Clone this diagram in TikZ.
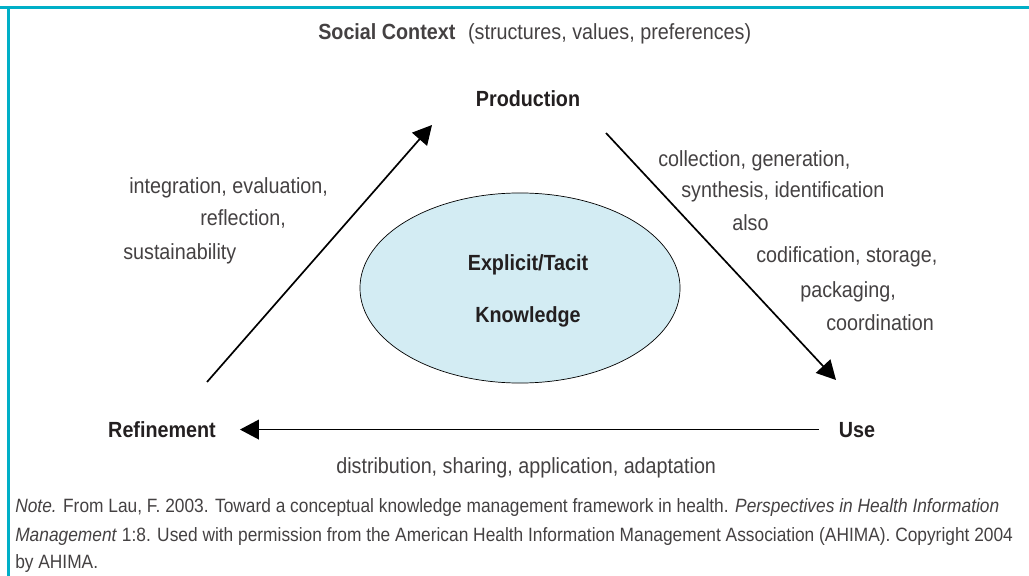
\documentclass[tikz,border=0pt]{standalone}
\usepackage{fontspec}
\setmainfont[FakeStretch=0.9]{Liberation Sans}
\usetikzlibrary{shapes, arrows.meta, positioning}
\definecolor{frameteal}{RGB}{0,175,199}
\definecolor{kfill}{RGB}{211,236,243}
\definecolor{ink}{RGB}{35,31,32}
\newcommand{\labsize}{\fontsize{15.6}{18}\selectfont}
\newcommand{\notesize}{\fontsize{13.7}{16}\selectfont}
\tikzstyle{stage} = [font=\labsize\bfseries, text=ink, inner sep=0pt, anchor=base]
\tikzstyle{act} = [font=\labsize, text=ink!85, inner sep=0pt, anchor=base west]
\tikzstyle{knowledge} = [ellipse, draw, fill=kfill, line width=0.5pt, minimum width=8cm, minimum height=4.75cm]
\tikzstyle{flow} = [-{Triangle[length=13.5pt,width=14pt]}, line width=1.2pt]
\tikzstyle{note} = [font=\notesize, text=ink!85, inner sep=0pt, anchor=base west]

\begin{document}
\begin{tikzpicture}[x=0.025cm, y=-0.025cm]
  \useasboundingbox (0,0) rectangle (1029,576);

  % Rahmen
  \draw[frameteal, line width=2.2pt] (0,7.5) -- (1029,7.5);
  \draw[frameteal, line width=2.2pt] (8.5,7.5) -- (8.5,576);

  % Kontext
  \node[act] (ctx) at (318,40) {\textbf{Social Context}\hspace{9pt}(structures, values, preferences)};

  % Phasen
  \node[stage] (prod) at (528,107) {Production};
  \node[stage] (ref) at (162,437) {Refinement};
  \node[stage] (use) at (857,437) {Use};

  % Wissen
  \node[knowledge] (kb) at (520,288) {};
  \node[stage] (kb1) at (528,271) {Explicit/Tacit};
  \node[stage] (kb2) at (528,322) {Knowledge};

  % Pfeile
  \coordinate (ref-out) at (207,382);
  \coordinate (prod-in) at (432,125);
  \coordinate (prod-out) at (606,133);
  \coordinate (use-in) at (836,380);
  \draw[flow] (ref-out) -- (prod-in);
  \draw[flow] (prod-out) -- (use-in);
  \draw[flow, shorten <=14pt, shorten >=17pt] (use.west) -- (use.west -| ref.east);

  % Aktivitaeten links
  \node[act] (a1) at (129,194) {integration, evaluation,};
  \node[act] (a2) at (200,226) {reflection,};
  \node[act] (a3) at (123,260) {sustainability};

  % Aktivitaeten rechts
  \node[act] (b1) at (658,167) {collection, generation,};
  \node[act] (b2) at (681,198) {synthesis, identification};
  \node[act] (b3) at (732,231) {also};
  \node[act] (b4) at (756,263) {codification, storage,};
  \node[act] (b5) at (800,297) {packaging,};
  \node[act] (b6) at (826,330) {coordination};

  % Aktivitaeten unten
  \node[act] (c1) at (336,473) {distribution, sharing, application, adaptation};

  % Quelle
  \node[note] (n1) at (15,512) {\textit{Note.} From Lau, F. 2003. Toward a conceptual knowledge management framework in health. \textit{Perspectives in Health Information}};
  \node[note] (n2) at (15,541) {\textit{Management} 1:8. Used with permission from the American Health Information Management Association (AHIMA). Copyright 2004};
  \node[note] (n3) at (15,568) {by AHIMA.};
\end{tikzpicture}
\end{document}
